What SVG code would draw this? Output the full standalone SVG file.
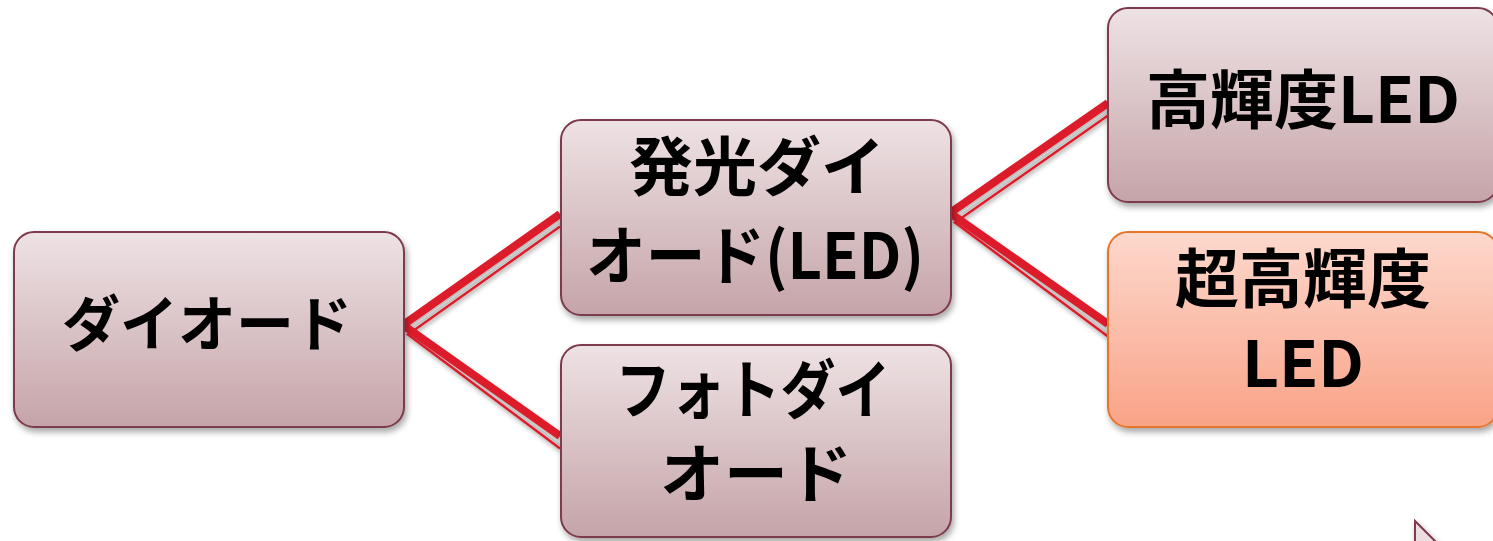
<svg xmlns="http://www.w3.org/2000/svg" width="1493" height="541" viewBox="0 0 1493 541">
<defs>
<linearGradient id="gMauve" x1="0" y1="0" x2="0" y2="1">
<stop offset="0" stop-color="#eee2e4"/>
<stop offset="1" stop-color="#c5a4a8"/>
</linearGradient>
<linearGradient id="gOrange" x1="0" y1="0" x2="0" y2="1">
<stop offset="0" stop-color="#fdd8cd"/>
<stop offset="1" stop-color="#f9a387"/>
</linearGradient>
<filter id="sh" x="-10%" y="-10%" width="125%" height="130%">
<feDropShadow dx="2" dy="4" stdDeviation="3" flood-color="#000" flood-opacity="0.35"/>
</filter>
<filter id="lsh" x="-10%" y="-10%" width="125%" height="130%">
<feDropShadow dx="1" dy="3" stdDeviation="2" flood-color="#000" flood-opacity="0.3"/>
</filter>
</defs>
<style>
.box{fill:url(#gMauve);stroke:#7e3a4c;stroke-width:2;filter:url(#sh)}
.obox{fill:url(#gOrange);stroke:#e8762c;stroke-width:2;filter:url(#sh)}
.t{font-family:"Noto Sans CJK JP","Noto Sans",sans-serif;font-weight:bold;fill:#000;text-anchor:middle}
.thick{fill:none;stroke:#dc1f2a;stroke-width:8;stroke-linejoin:miter}
.gray{fill:none;stroke:#c4c4c4;stroke-width:2.5}
.thin{fill:none;stroke:#dc1f2a;stroke-width:2.5}
</style>
<g id="connectors" filter="url(#lsh)">
<path class="gray" d="M560,223 L408,331 L560,445"/>
<path class="thin" d="M560,226.5 L408,334.5 L560,448.5"/>
<path class="thick" d="M560,214 L403,325 L560,436"/>
<path class="gray" d="M1108,112 L955,219 L1108,333"/>
<path class="thin" d="M1108,115.5 L955,222.5 L1108,336.5"/>
<path class="thick" d="M1108,103 L950,213 L1108,324"/>
</g>
<g id="node-diode">
<rect class="box" x="14" y="232" width="390" height="195" rx="20"/>
<text class="t" x="207" y="346" font-size="60" textLength="290" lengthAdjust="spacingAndGlyphs">ダイオード</text>
</g>
<g id="node-led">
<rect class="box" x="561" y="120" width="390" height="195" rx="20"/>
<text class="t" x="757" y="190" font-size="64">発光ダイ</text>
<text class="t" x="755" y="279" font-size="64" textLength="338" lengthAdjust="spacingAndGlyphs">オード(LED)</text>
</g>
<g id="node-photodiode">
<rect class="box" x="561" y="345" width="390" height="192" rx="20"/>
<text class="t" x="753" y="413" font-size="64" textLength="275" lengthAdjust="spacingAndGlyphs">フォトダイ</text>
<text class="t" x="756" y="497" font-size="64">オード</text>
</g>
<g id="node-high">
<rect class="box" x="1108" y="8" width="390" height="194" rx="20"/>
<text class="t" x="1303" y="123" font-size="64">高輝度LED</text>
</g>
<g id="node-ultra">
<rect class="obox" x="1108" y="232" width="390" height="195" rx="20"/>
<text class="t" x="1303" y="302" font-size="64">超高輝度</text>
<text class="t" x="1303" y="387" font-size="64">LED</text>
</g>
<g id="corner-shape">
<polygon points="1415,521 1415,548 1442,548" fill="#ecdde0" stroke="#7e3a4c" stroke-width="2" filter="url(#sh)"/>
</g>
</svg>
